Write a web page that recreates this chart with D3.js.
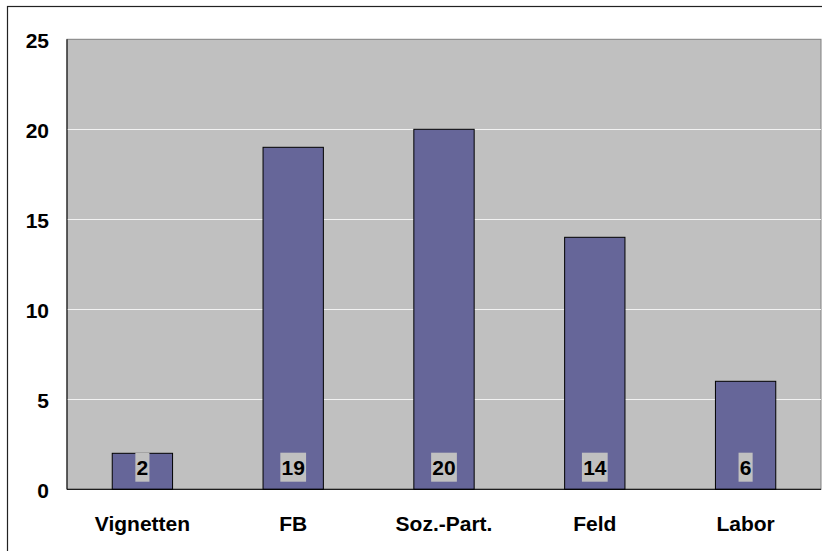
<!DOCTYPE html>
<html>
<head>
<meta charset="utf-8">
<script src="https://cdn.jsdelivr.net/npm/d3@7"></script>
<style>
  html, body { margin: 0; padding: 0; background: #fff; }
  svg { display: block; }
  text { font-family: "Liberation Sans", Arial, sans-serif; font-weight: bold; fill: #000; }
</style>
</head>
<body>
<svg id="chart" width="822" height="551"></svg>
<script>
// Number of items per method
const categories = ["Vignetten", "FB", "Soz.-Part.", "Feld", "Labor"];
const counts = [2, 19, 20, 14, 6];
const yTicks = [0, 5, 10, 15, 20, 25];

const svg = d3.select("#chart");
const W = 822, H = 551;
const plot = { left: 67, top: 39.3, right: 821, bottom: 489.3 };

// outer chart frame (continues past the visible area on the right and bottom)
svg.append("rect")
  .attr("x", 7.5).attr("y", 6.5)
  .attr("width", 1000).attr("height", 1000)
  .attr("fill", "#fff")
  .attr("stroke", "#222").attr("stroke-width", 1.2);

const x = d3.scaleBand()
  .domain(categories)
  .range([plot.left, plot.right])
  .paddingInner(0.6)
  .paddingOuter(0.3);

const y = d3.scaleLinear()
  .domain([0, 25])
  .range([plot.bottom, plot.top]);

// plot background
svg.append("rect")
  .attr("x", plot.left).attr("y", plot.top)
  .attr("width", plot.right - plot.left)
  .attr("height", plot.bottom - plot.top)
  .attr("fill", "#c0c0c0")
  .attr("stroke", "#808080").attr("stroke-width", 1);

// horizontal gridlines
svg.append("g")
  .selectAll("line")
  .data(yTicks.filter(d => d > 0 && d < 25))
  .join("line")
  .attr("x1", plot.left).attr("x2", plot.right)
  .attr("y1", d => Math.round(y(d)) + 0.5)
  .attr("y2", d => Math.round(y(d)) + 0.5)
  .attr("stroke", "#f2f2f2").attr("stroke-width", 1);

// bars
svg.append("g")
  .selectAll("rect")
  .data(categories)
  .join("rect")
  .attr("x", d => x(d))
  .attr("y", (d, i) => y(counts[i]))
  .attr("width", x.bandwidth())
  .attr("height", (d, i) => y(0) - y(counts[i]))
  .attr("fill", "#666699")
  .attr("stroke", "#000").attr("stroke-width", 1);

// axis lines
svg.append("line")
  .attr("x1", plot.left).attr("x2", plot.left)
  .attr("y1", plot.top).attr("y2", plot.bottom)
  .attr("stroke", "#000").attr("stroke-width", 1);
svg.append("line")
  .attr("x1", plot.left).attr("x2", plot.right)
  .attr("y1", plot.bottom).attr("y2", plot.bottom)
  .attr("stroke", "#000").attr("stroke-width", 1);

// y axis labels
const yAxis = d3.axisLeft(y).tickValues(yTicks).tickSize(0).tickPadding(18);
const gy = svg.append("g")
  .attr("transform", `translate(${plot.left},0)`)
  .call(yAxis);
gy.select(".domain").remove();
gy.selectAll("text")
  .attr("font-size", 21)
  .attr("font-family", null)
  .attr("dy", "0.4em");

// x axis labels
const xAxis = d3.axisBottom(x).tickSize(0).tickPadding(0);
const gx = svg.append("g")
  .attr("transform", `translate(0,${plot.bottom})`)
  .call(xAxis);
gx.select(".domain").remove();
gx.selectAll("text")
  .attr("font-size", 21)
  .attr("font-family", null)
  .attr("dy", null)
  .attr("y", 531 - plot.bottom);

// value labels at the base of each bar, on a grey box
const labels = svg.append("g")
  .selectAll("g")
  .data(categories)
  .join("g")
  .attr("transform", d => `translate(${x(d) + x.bandwidth() / 2},${y(0) - 14.3})`);

labels.append("rect").attr("class", "lbl-bg");
labels.append("text")
  .attr("text-anchor", "middle")
  .attr("font-size", 21)
  .text((d, i) => counts[i]);

labels.each(function() {
  const g = d3.select(this);
  const w = g.select("text").node().getComputedTextLength();
  g.select("rect")
    .attr("x", -w / 2 - 1.2)
    .attr("y", -22.3)
    .attr("width", w + 2.4)
    .attr("height", 29)
    .attr("fill", "#c0c0c0");
});
</script>
</body>
</html>
